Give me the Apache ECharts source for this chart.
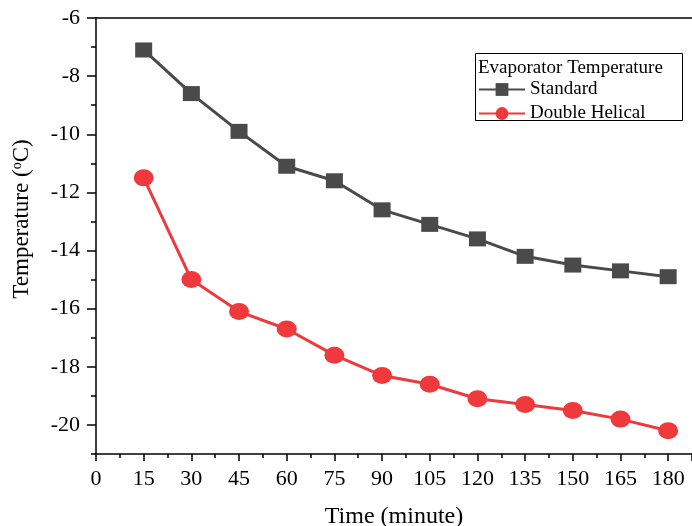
<!DOCTYPE html>
<html lang="en">
<style>
  #container {
    width: 692px;
    height: 526px;
  }

  body {
    margin: 0;
    background: #ffffff;
  }
</style>

<head>
  <meta charset="UTF-8">
  <script src="https://cdn.jsdelivr.net/npm/echarts@6/dist/echarts.min.js"></script>
</head>

<body>
  <div id="container"></div>
  <script>
    var times = [15, 30, 45, 60, 75, 90, 105, 120, 135, 150, 165, 180];
    var standard = [-7.1, -8.6, -9.9, -11.1, -11.6, -12.6, -13.1, -13.6, -14.2, -14.5, -14.7, -14.9];
    var doubleHelical = [-11.5, -15, -16.1, -16.7, -17.6, -18.3, -18.6, -19.1, -19.3, -19.5, -19.8, -20.2];
    var yMajor = [-20, -18, -16, -14, -12, -10, -8, -6];
    var yMinor = [-21, -19, -17, -15, -13, -11, -9, -7];

    var myChart = echarts.init(document.getElementById('container'));
    var font = 'Liberation Serif';

    // 把时间和数值配成坐标对
    var pairs = function (ys) {
      var res = [];
      for (var i = 0; i < times.length; i++) {
        res.push([times[i], ys[i]]);
      }
      return res;
    };

    var option = {
      animation: false,
      grid: { left: 96, top: 18, right: 0, bottom: 72, containLabel: false, outerBoundsMode: 'none' },
      graphic: [
        {
          type: 'rect',
          shape: { x: 475.5, y: 53.5, width: 207, height: 67 },
          style: { fill: '#fff', stroke: '#000', lineWidth: 1 },
          z: 10
        },
        {
          type: 'text',
          x: 478, y: 68,
          style: { text: 'Evaporator Temperature', font: '19px "Liberation Serif"', fill: '#000', verticalAlign: 'middle' },
          z: 11
        }
      ],
      legend: {
        orient: 'vertical',
        left: 473,
        top: 80,
        itemWidth: 46,
        itemHeight: 16,
        itemGap: 5,
        padding: [0, 5],
        z: 12,
        textStyle: { fontFamily: font, fontSize: 19, color: '#000' },
        data: ['Standard', 'Double Helical']
      },
      xAxis: [
        {
          type: 'value',
          min: 0,
          max: 187.5,
          interval: 15,
          name: 'Time (minute)',
          nameLocation: 'middle',
          nameGap: 51,
          nameTextStyle: { fontFamily: font, fontSize: 24, color: '#000' },
          axisLine: { show: true, lineStyle: { color: '#000', width: 1.5 } },
          axisTick: { show: true, inside: false, length: 7, lineStyle: { color: '#000', width: 1.5 } },
          minorTick: { show: true, splitNumber: 2, length: 4, lineStyle: { color: '#000', width: 1.5 } },
          axisLabel: { fontFamily: font, fontSize: 22, color: '#000', margin: 14, showMaxLabel: false },
          splitLine: { show: false }
        },
        {
          type: 'value',
          position: 'top',
          min: 0,
          max: 187.5,
          axisLine: { show: true, lineStyle: { color: '#000', width: 1.5 } },
          axisTick: { show: false },
          axisLabel: { show: false },
          splitLine: { show: false }
        }
      ],
      yAxis: [
        {
          type: 'value',
          position: 'left',
          min: -21,
          max: -6,
          interval: 1,
          name: 'Temperature ({sup|o}C)',
          nameLocation: 'middle',
          nameGap: 62,
          nameRotate: 90,
          nameTextStyle: {
            fontFamily: font, fontSize: 23, color: '#000',
            padding: [0, 0, 0, 34],
            rich: { sup: { fontFamily: font, fontSize: 14, color: '#000', verticalAlign: 'top', padding: [0, 0, 10, 0] } }
          },
          axisLine: { show: true, lineStyle: { color: '#000', width: 1.5 } },
          axisTick: { show: true, length: 9, customValues: yMajor, lineStyle: { color: '#000', width: 1.5 } },
          axisLabel: { fontFamily: font, fontSize: 22, color: '#000', margin: 16, customValues: yMajor },
          splitLine: { show: false }
        },
        {
          type: 'value',
          position: 'left',
          offset: 0,
          min: -21,
          max: -6,
          interval: 1,
          axisLine: { show: false },
          axisTick: { show: true, length: 5, customValues: yMinor, lineStyle: { color: '#000', width: 1.5 } },
          axisLabel: { show: false },
          splitLine: { show: false }
        }
      ],
      series: [
        {
          name: 'Standard',
          type: 'line',
          data: pairs(standard),
          symbol: 'rect',
          symbolSize: [17, 15],
          lineStyle: { color: '#4a4a4a', width: 3 },
          itemStyle: { color: '#4a4a4a' }
        },
        {
          name: 'Double Helical',
          type: 'line',
          data: pairs(doubleHelical),
          symbol: 'circle',
          symbolSize: [20, 17],
          lineStyle: { color: '#f0393c', width: 3 },
          itemStyle: { color: '#f0393c' }
        }
      ]
    };

    myChart.setOption(option);
  </script>
</body>

</html>
